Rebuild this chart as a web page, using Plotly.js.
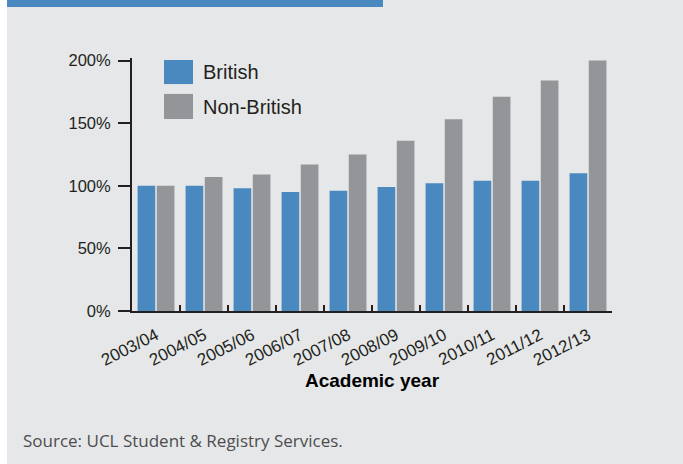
<!DOCTYPE html>
<html>
<head>
<meta charset="utf-8">
<script src="https://cdn.plot.ly/plotly-3.0.1.min.js"></script>
<style>
html,body{margin:0;padding:0;background:#ffffff;}
#chart{position:absolute;left:7px;top:0;width:676px;height:464px;}
</style>
</head>
<body>
<div id="chart"></div>
<script>
const years = ["2003/04","2004/05","2005/06","2006/07","2007/08","2008/09","2009/10","2010/11","2011/12","2012/13"];
const british = [100,100,98,95,96,99,102,104,104,110];
const nonBritish = [100,107,109,117,125,136,153,171,184,200];
const seriesNames = ["British","Non-British"];
const seriesColors = ["#4a89c0","#939598"];
const yTickVals = [0,50,100,150,200];
const yTickText = ["0%","50%","100%","150%","200%"];
const xTitle = "Academic year";
const sourceText = "Source: UCL Student & Registry Services.";

const axisColor = "#231f20";
const traces = [
  {type:"bar", x:years, y:british, name:seriesNames[0], marker:{color:seriesColors[0]}, showlegend:false, hoverinfo:"none"},
  {type:"bar", x:years, y:nonBritish, name:seriesNames[1], marker:{color:seriesColors[1]}, showlegend:false, hoverinfo:"none"}
];

// custom legend (large swatches)
const legShapes = [
  {type:"rect", xref:"paper", yref:"paper", x0:0.0667, x1:0.1271, y0:0.897, y1:0.992, fillcolor:seriesColors[0], line:{width:0}},
  {type:"rect", xref:"paper", yref:"paper", x0:0.0667, x1:0.1271, y0:0.759, y1:0.858, fillcolor:seriesColors[1], line:{width:0}}
];
const legAnn = [
  {xref:"paper", yref:"paper", x:0.144, y:0.944, xanchor:"left", yanchor:"middle", text:seriesNames[0], showarrow:false, font:{family:"Liberation Sans, Arial, sans-serif", size:20, color:axisColor}},
  {xref:"paper", yref:"paper", x:0.144, y:0.808, xanchor:"left", yanchor:"middle", text:seriesNames[1], showarrow:false, font:{family:"Liberation Sans, Arial, sans-serif", size:20, color:axisColor}}
];

const layout = {
  width:676, height:464,
  paper_bgcolor:"#e6e7e8", plot_bgcolor:"rgba(0,0,0,0)",
  margin:{l:125, r:71, t:58, b:153, autoexpand:false},
  barmode:"group", bargap:0.2, bargroupgap:0.08,
  showlegend:false,
  font:{family:"Liberation Sans, Arial, sans-serif", color:axisColor},
  xaxis:{
    type:"category", tickangle:-27,
    tickfont:{size:17, color:axisColor},
    showline:true, linecolor:axisColor, linewidth:2,
    ticks:"inside", tickson:"boundaries", ticklen:6, tickwidth:2, tickcolor:axisColor,
    showgrid:false, zeroline:false, automargin:false, ticklabelstandoff:6,
    title:{text:xTitle, font:{size:19, color:"#000000", family:"Liberation Sans, Arial, sans-serif", weight:"bold"}, standoff:5}
  },
  yaxis:{
    range:[0,202], tickvals:yTickVals, ticktext:yTickText,
    tickfont:{size:16.5, color:axisColor},
    showline:true, linecolor:axisColor, linewidth:2,
    ticks:"outside", ticklen:12, tickwidth:2, tickcolor:axisColor,
    showgrid:false, zeroline:false, automargin:false, ticklabelstandoff:4
  },
  shapes:[
    {type:"rect", xref:"paper", yref:"paper", x0:-0.2604, x1:0.5229, y0:1.2016, y1:1.25, fillcolor:"#4a89c0", line:{width:0}, layer:"above"}
  ].concat(legShapes),
  annotations:[
    {xref:"paper", yref:"paper", x:-0.231, y:-0.51, xanchor:"left", yanchor:"middle", text:sourceText, showarrow:false, font:{family:"Open Sans, sans-serif", size:17, color:"#4d4d4f"}}
  ].concat(legAnn)
};

Plotly.newPlot("chart", traces, layout, {staticPlot:true, displayModeBar:false});
</script>
</body>
</html>
